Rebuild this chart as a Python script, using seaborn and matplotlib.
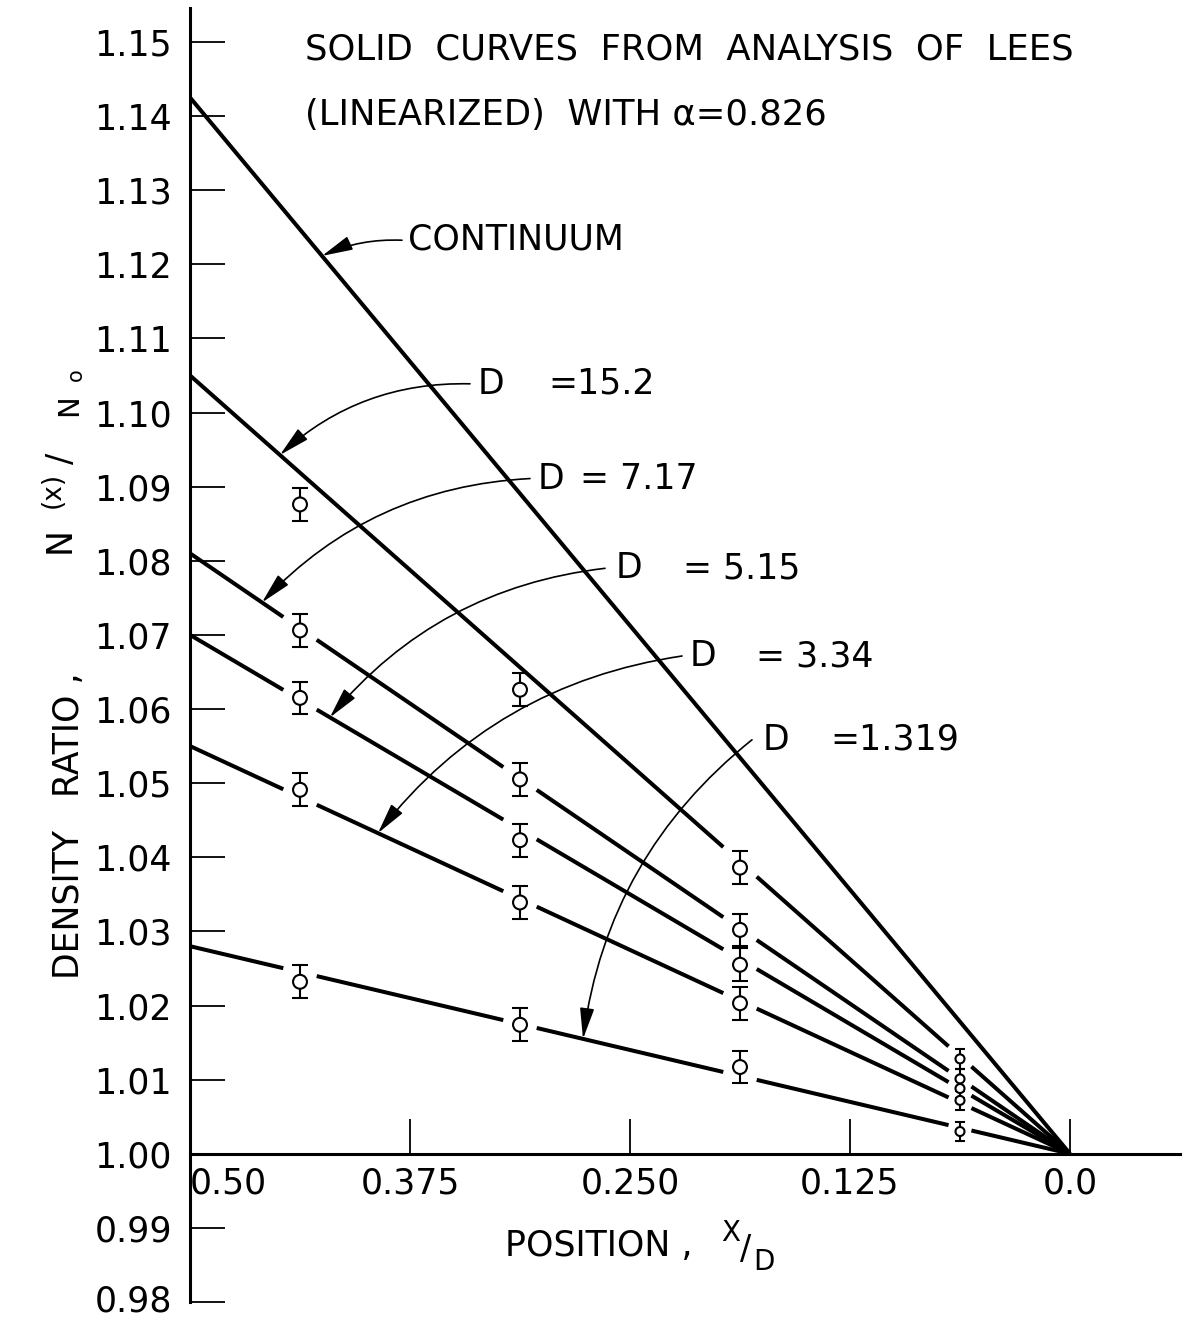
import numpy as np
import pandas as pd
import matplotlib
matplotlib.use("Agg")
import matplotlib.pyplot as plt
import seaborn as sns

# ---- data -------------------------------------------------------------
# Linearized Lees curves: value of N(x)/N0 at x/D = 0.50 (all meet 1.00 at x/D = 0)
curve_names = ["CONTINUUM", "15.2", "7.17", "5.15", "3.34", "1.319"]
curve_end_values = [1.1425, 1.105, 1.081, 1.070, 1.055, 1.028]
curve_end_x = 0.5

# Measured density ratios at four stations
positions = [0.4375, 0.3125, 0.1875, 0.0625]
ratio_15_2 = [1.0876, 1.0626, 1.0386, 1.0128]
ratio_7_17 = [1.0706, 1.0505, 1.0302, 1.0101]
ratio_5_15 = [1.0615, 1.0423, 1.0255, 1.0088]
ratio_3_34 = [1.0491, 1.0339, 1.0203, 1.0072]
ratio_1_319 = [1.0232, 1.0174, 1.0117, 1.0030]
error_half = [0.0022, 0.0022, 0.0022, 0.0013]

x_ticks = [0.5, 0.375, 0.25, 0.125, 0.0]
x_tick_labels = ["0.50", "0.375", "0.250", "0.125", "0.0"]
y_ticks = [0.98, 0.99, 1.00, 1.01, 1.02, 1.03, 1.04, 1.05, 1.06, 1.07, 1.08,
           1.09, 1.10, 1.11, 1.12, 1.13, 1.14, 1.15]
y_tick_labels = ["0.98", "0.99", "1.00", "1.01", "1.02", "1.03", "1.04", "1.05",
                 "1.06", "1.07", "1.08", "1.09", "1.10", "1.11", "1.12", "1.13",
                 "1.14", "1.15"]

measured = {"15.2": ratio_15_2, "7.17": ratio_7_17, "5.15": ratio_5_15,
            "3.34": ratio_3_34, "1.319": ratio_1_319}

# ---- style ------------------------------------------------------------
sns.set_theme(style="white")
plt.rcParams["font.family"] = ["DejaVu Sans"]
INK = "black"

W, H = 1186, 1323
fig = plt.figure(figsize=(W / 100, H / 100), dpi=100)
fig.patch.set_facecolor("white")
ax = fig.add_axes([190 / W, 21 / H, 990 / W, 1294 / H])
ax.set_facecolor("white")


def curve_value(end_value, x):
    return 1.0 + (end_value - 1.0) * x / curve_end_x


def fig_xy(px, py):
    return px / W, 1 - py / H


# ---- theory curves, broken where a measured point sits on them ----------
gap_half = [0.0095, 0.0095, 0.0095, 0.0065]
rows = []
seg_id = 0
for name, v_end in zip(curve_names, curve_end_values):
    cuts = []
    if name in measured:
        for p, r, g in zip(positions, measured[name], gap_half):
            if abs(r - curve_value(v_end, p)) < 0.003:
                cuts.append((p - g, p + g))
    edges = [curve_end_x]
    for lo, hi in sorted(cuts, reverse=True):
        edges += [hi, lo]
    edges.append(0.0)
    for a, b in zip(edges[0::2], edges[1::2]):
        for xv in (a, b):
            rows.append({"x": xv, "y": curve_value(v_end, xv), "seg": seg_id})
        seg_id += 1
seg_df = pd.DataFrame(rows)

sns.lineplot(data=seg_df, x="x", y="y", units="seg", estimator=None, sort=False,
             color=INK, linewidth=2.9, legend=False, ax=ax,
             solid_capstyle="butt")

# ---- measured points with error bars -----------------------------------
pts = []
for name, vals in measured.items():
    for i, (p, r) in enumerate(zip(positions, vals)):
        pts.append({"x": p, "y": r, "err": error_half[i],
                    "kind": "small" if i == 3 else "large"})
pts_df = pd.DataFrame(pts)

for kind, cap in (("large", 5.5), ("small", 3.5)):
    sub = pts_df[pts_df["kind"] == kind]
    ax.errorbar(sub["x"], sub["y"], yerr=sub["err"], fmt="none", ecolor=INK,
                elinewidth=1.5, capsize=cap, capthick=1.5, zorder=4)

sns.scatterplot(data=pts_df, x="x", y="y", size="kind",
                sizes={"large": 100, "small": 42}, marker="o",
                facecolor="white", edgecolor=INK, linewidth=1.5,
                legend=False, zorder=5, ax=ax)

# ---- axes ---------------------------------------------------------------
ax.set_xlim(0.5, -0.0625)
ax.set_ylim(0.98, 1.15457)
for side in ("top", "right"):
    ax.spines[side].set_visible(False)
ax.spines["left"].set_linewidth(2.2)
ax.spines["left"].set_color(INK)
ax.spines["bottom"].set_position(("data", 1.0))
ax.spines["bottom"].set_linewidth(2.2)
ax.spines["bottom"].set_color(INK)

ax.set_xticks(x_ticks)
ax.set_xticklabels(x_tick_labels)
ax.set_yticks(y_ticks)
ax.set_yticklabels(y_tick_labels)
ax.tick_params(axis="y", direction="in", length=25, width=1.3, pad=13,
               labelsize=25, colors=INK, left=True)
ax.tick_params(axis="x", direction="in", length=25, width=1.3, pad=9,
               labelsize=25, colors=INK, bottom=True)
ax.get_xticklabels()[0].set_horizontalalignment("left")
ax.get_yticklabels()[0].set_verticalalignment("center")
ax.set_xlabel("")
ax.set_ylabel("")
ax.grid(False)

# ---- annotations ----------------------------------------------------------
ax.text(0.4347, 1.14892, "SOLID  CURVES  FROM  ANALYSIS  OF  LEES",
        fontsize=25.5, ha="left", va="center", color=INK)
ax.text(0.4347, 1.14018, "(LINEARIZED)  WITH α=0.826",
        fontsize=25.5, ha="left", va="center", color=INK)

arrow_kw = dict(arrowstyle="-|>,head_length=0.95,head_width=0.22", color=INK,
                lw=1.2, mutation_scale=20, shrinkA=0, shrinkB=0)

# CONTINUUM label
ax.text(0.37614, 1.12337, "CONTINUUM", fontsize=25, ha="left", va="center", color=INK)
tip_x = 0.425
ax.annotate("", xy=(tip_x, curve_value(curve_end_values[0], tip_x)),
            xytext=(0.37955, 1.12324),
            arrowprops=dict(arrow_kw, connectionstyle="arc3,rad=0.12"))

# D labels: (D-text x, value-text x, y, tail x, tip x on curve, curvature)
d_layout = {
    "15.2": (0.33636, 0.29659, 1.10387, 0.34091, 0.4489, 0.2),
    "7.17": (0.30227, 0.27841, 1.09109, 0.30682, 0.4591, 0.2),
    "5.15": (0.25795, 0.21989, 1.07898, 0.26420, 0.4205, 0.2),
    "3.34": (0.21591, 0.17841, 1.06715, 0.22045, 0.3932, 0.2),
    "1.319": (0.17443, 0.13636, 1.05585, 0.18068, 0.2767, 0.2),
}
value_text = {"15.2": "=15.2", "7.17": "= 7.17", "5.15": "= 5.15",
              "3.34": "= 3.34", "1.319": "=1.319"}
for name, v_end in zip(curve_names[1:], curve_end_values[1:]):
    dx, vx, ty, tx, tipx, rad = d_layout[name]
    ax.text(dx, ty, "D", fontsize=25, ha="left", va="center", color=INK)
    ax.text(vx, ty, value_text[name], fontsize=25, ha="left", va="center", color=INK)
    ax.annotate("", xy=(tipx, curve_value(v_end, tipx)), xytext=(tx, ty),
                arrowprops=dict(arrow_kw, connectionstyle=f"arc3,rad={rad}"))

# x-axis title: POSITION , X/D (slashed fraction)
fig.text(*fig_xy(505, 1246), "POSITION ,", fontsize=25, ha="left", va="center", color=INK)
fig.text(*fig_xy(731, 1233), "X", fontsize=20, ha="center", va="center", color=INK)
fig.text(*fig_xy(746, 1250), "/", fontsize=24, ha="center", va="center", color=INK)
fig.text(*fig_xy(764, 1262), "D", fontsize=20, ha="center", va="center", color=INK)

# y-axis title: DENSITY RATIO , N(x)/No
fig.text(*fig_xy(69, 826), "DENSITY   RATIO ,", rotation=90,
         fontsize=25, ha="center", va="center", color=INK)
fig.text(*fig_xy(60, 540), "N", rotation=90, fontsize=25, ha="center", va="center", color=INK)
fig.text(*fig_xy(53, 490), "(x)", rotation=90, fontsize=19, ha="center", va="center", color=INK)
fig.text(*fig_xy(62, 458), "/", rotation=90, fontsize=24, ha="center", va="center", color=INK)
fig.text(*fig_xy(69, 405), "N", rotation=90, fontsize=21, ha="center", va="center", color=INK)
fig.text(*fig_xy(76, 375), "o", rotation=90, fontsize=15, ha="center", va="center", color=INK)

fig.savefig("out.png", dpi=100, facecolor="white")
